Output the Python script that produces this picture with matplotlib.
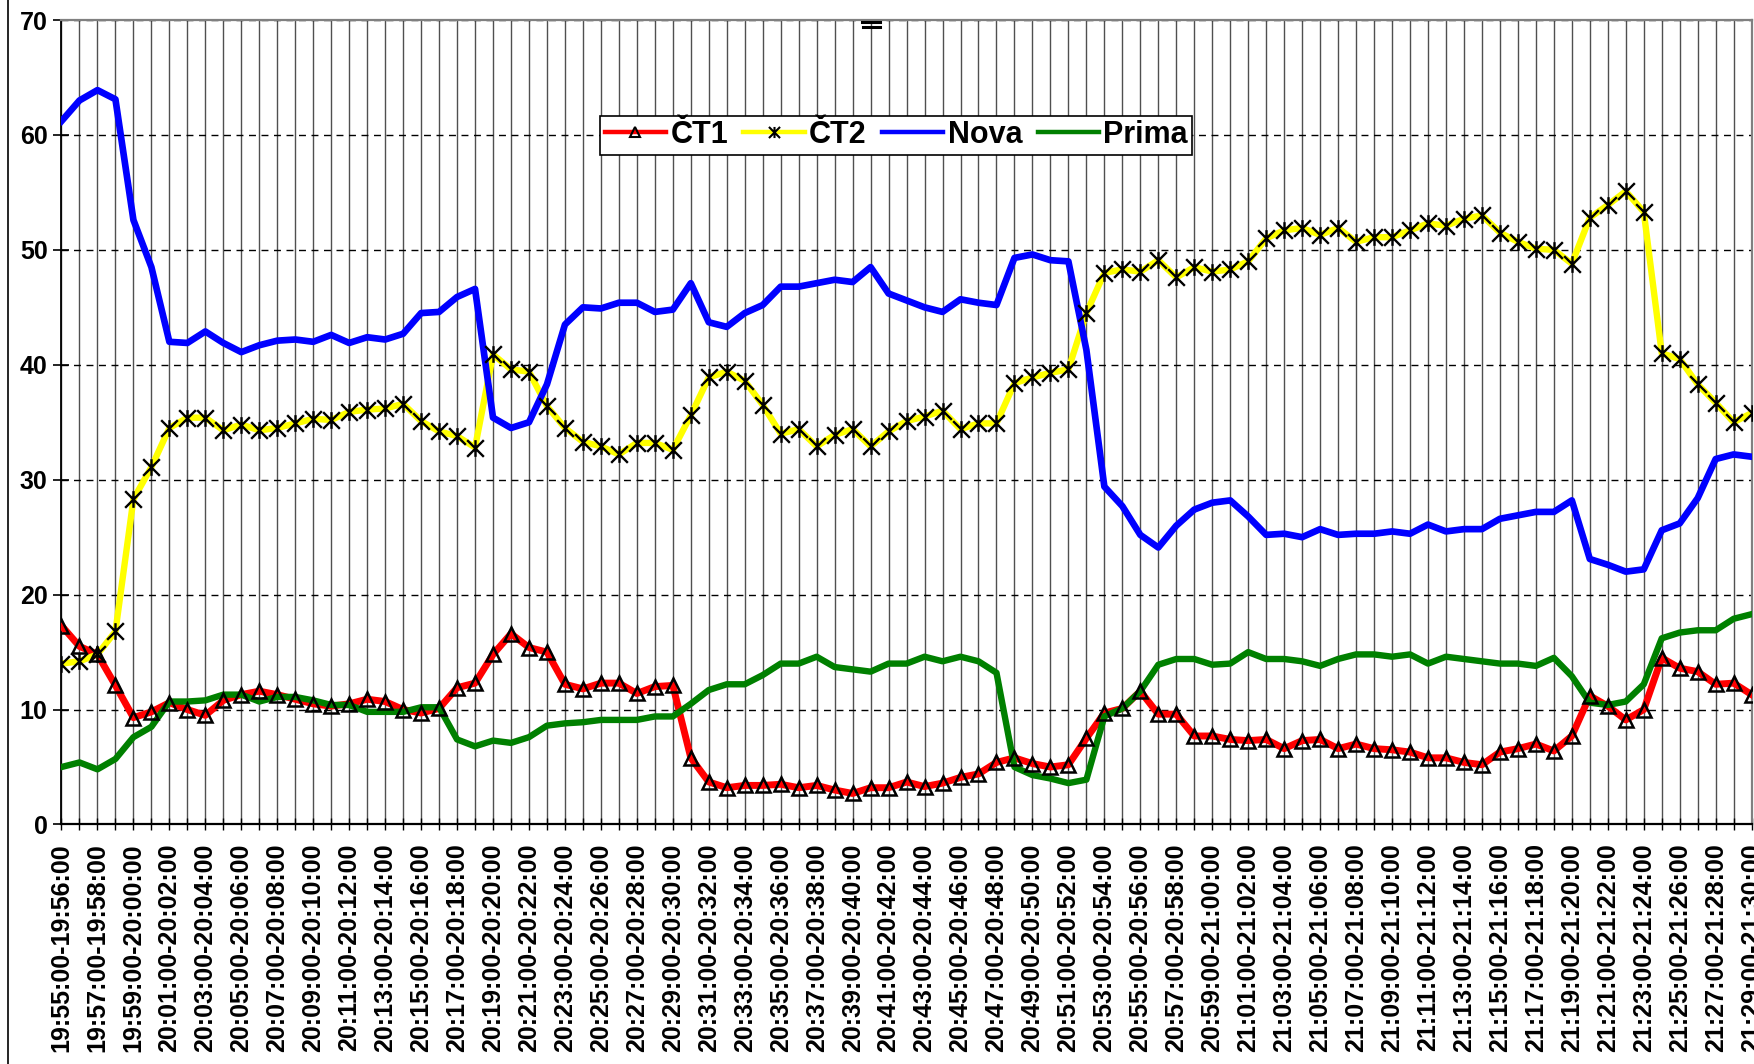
from datetime import datetime, timedelta

import matplotlib
matplotlib.use("Agg")
import matplotlib.pyplot as plt
from matplotlib.lines import Line2D
from matplotlib.path import Path

plt.rcParams["font.family"] = ["Liberation Sans", "DejaVu Sans"]
plt.rcParams["font.weight"] = "bold"

# one-minute intervals 19:55-19:56 ... 21:29-21:30
t0 = datetime(2000, 1, 1, 19, 55)
intervals = [f"{t0 + timedelta(minutes=k):%H:%M:%S}-{t0 + timedelta(minutes=k + 1):%H:%M:%S}"
             for k in range(95)]

ct1 = [17.3, 15.5, 14.8, 12.1, 9.3, 9.8, 10.6, 10.0, 9.5, 10.8,
       11.3, 11.6, 11.3, 10.9, 10.5, 10.3, 10.5, 10.9, 10.7, 10.0,
       9.7, 10.1, 11.9, 12.3, 14.8, 16.6, 15.4, 15.0, 12.2, 11.8,
       12.3, 12.3, 11.4, 12.0, 12.1, 5.8, 3.7, 3.2, 3.4, 3.4,
       3.5, 3.2, 3.4, 3.0, 2.7, 3.2, 3.2, 3.7, 3.3, 3.6,
       4.1, 4.4, 5.4, 5.8, 5.3, 5.0, 5.2, 7.5, 9.7, 10.1,
       11.6, 9.6, 9.6, 7.7, 7.7, 7.4, 7.3, 7.4, 6.6, 7.3,
       7.4, 6.6, 7.0, 6.6, 6.5, 6.3, 5.8, 5.8, 5.4, 5.2,
       6.3, 6.6, 7.0, 6.4, 7.7, 11.2, 10.3, 9.1, 10.0, 14.5,
       13.6, 13.3, 12.2, 12.3, 11.3]

ct2 = [14.0, 14.2, 14.8, 16.8, 28.3, 31.1, 34.5, 35.4, 35.4, 34.3,
       34.8, 34.3, 34.5, 34.9, 35.3, 35.2, 35.9, 36.1, 36.2, 36.6,
       35.1, 34.2, 33.8, 32.8, 40.9, 39.6, 39.4, 36.4, 34.5, 33.3,
       32.9, 32.2, 33.2, 33.2, 32.6, 35.6, 38.9, 39.4, 38.6, 36.5,
       34.0, 34.4, 32.9, 33.9, 34.4, 32.9, 34.2, 35.1, 35.5, 36.0,
       34.4, 34.9, 34.9, 38.4, 38.9, 39.3, 39.6, 44.5, 48.0, 48.3,
       48.1, 49.1, 47.6, 48.5, 48.1, 48.3, 49.0, 51.0, 51.7, 51.9,
       51.3, 51.9, 50.7, 51.1, 51.1, 51.7, 52.3, 52.1, 52.7, 53.0,
       51.5, 50.7, 50.1, 50.0, 48.8, 52.8, 53.9, 55.1, 53.3, 41.0,
       40.5, 38.3, 36.7, 35.0, 35.8]

nova = [61.2, 63.0, 63.9, 63.1, 52.6, 48.5, 42.0, 41.9, 42.9, 41.9,
        41.1, 41.7, 42.1, 42.2, 42.0, 42.6, 41.9, 42.4, 42.2, 42.7,
        44.5, 44.6, 45.9, 46.6, 35.4, 34.5, 35.0, 38.3, 43.5, 45.0,
        44.9, 45.4, 45.4, 44.6, 44.8, 47.1, 43.7, 43.3, 44.5, 45.2,
        46.8, 46.8, 47.1, 47.4, 47.2, 48.5, 46.2, 45.6, 45.0, 44.6,
        45.7, 45.4, 45.2, 49.3, 49.6, 49.1, 49.0, 41.3, 29.4, 27.7,
        25.2, 24.1, 26.0, 27.4, 28.0, 28.2, 26.8, 25.2, 25.3, 25.0,
        25.7, 25.2, 25.3, 25.3, 25.5, 25.3, 26.1, 25.5, 25.7, 25.7,
        26.6, 26.9, 27.2, 27.2, 28.2, 23.1, 22.6, 22.0, 22.2, 25.6,
        26.2, 28.4, 31.8, 32.2, 32.0]

prima = [5.0, 5.4, 4.8, 5.7, 7.6, 8.5, 10.7, 10.7, 10.8, 11.3,
         11.3, 10.7, 11.1, 11.1, 10.8, 10.4, 10.4, 9.8, 9.8, 9.8,
         10.2, 10.2, 7.4, 6.8, 7.3, 7.1, 7.6, 8.6, 8.8, 8.9,
         9.1, 9.1, 9.1, 9.4, 9.4, 10.5, 11.7, 12.2, 12.2, 13.0,
         14.0, 14.0, 14.6, 13.7, 13.5, 13.3, 14.0, 14.0, 14.6, 14.2,
         14.6, 14.2, 13.2, 5.0, 4.3, 4.0, 3.6, 3.9, 9.4, 10.1,
         11.6, 13.9, 14.4, 14.4, 13.9, 14.0, 15.0, 14.4, 14.4, 14.2,
         13.8, 14.4, 14.8, 14.8, 14.6, 14.8, 14.0, 14.6, 14.4, 14.2,
         14.0, 14.0, 13.8, 14.5, 12.9, 10.6, 10.4, 10.7, 12.2, 16.2,
         16.7, 16.9, 16.9, 17.9, 18.3]

yticks = [0, 10, 20, 30, 40, 50, 60, 70]

# Excel-style star marker: X with a vertical bar
star = Path([(-1, -1), (1, 1), (-1, 1), (1, -1), (0, -1), (0, 1)],
            [Path.MOVETO, Path.LINETO, Path.MOVETO, Path.LINETO, Path.MOVETO, Path.LINETO])

fig = plt.figure(figsize=(17.54, 10.64), dpi=100)
ax = fig.add_axes([0.03506, 0.2251, 0.9636, 0.7561])

x = list(range(len(intervals)))
ax.plot(x, ct1, color="#FF0000", lw=5, zorder=3)
ax.plot(x, ct2, color="#FFFF00", lw=4.6, zorder=3)
ax.plot(x, nova, color="#0000FF", lw=4.8, zorder=3)
ax.plot(x, prima, color="#008000", lw=4.6, zorder=3)
# markers sit on top of every line
ax.plot(x, ct1, ls="none", marker="^", ms=10, mfc="none", mec="black", mew=1.8, zorder=4)
ax.plot(x, ct2, ls="none", marker=star, ms=12, mfc="none", mec="black", mew=1.7, zorder=4)

ax.set_xlim(0, len(intervals) - 1)
ax.set_ylim(0, 70)
ax.set_xticks(x)
ax.set_xticklabels([lab if k % 2 == 0 else "" for k, lab in enumerate(intervals)],
                   rotation=90, fontsize=18, fontweight="bold")
ax.set_yticks(yticks)
ax.set_yticklabels([str(v) for v in yticks], fontsize=18, fontweight="bold")
ax.tick_params(axis="x", direction="inout", length=9, width=1, pad=9)
ax.tick_params(axis="y", direction="inout", length=12, width=1.2, pad=4)

ax.xaxis.grid(True, color="#505050", lw=1.0, ls="-", zorder=1)
ax.yaxis.grid(True, color="black", lw=1.0, ls=(0, (5, 4)), zorder=1)
ax.set_axisbelow(True)

ax.spines["left"].set_color("black")
ax.spines["left"].set_linewidth(1.3)
ax.spines["bottom"].set_color("black")
ax.spines["bottom"].set_linewidth(1.6)
for s in ("top", "right"):
    ax.spines[s].set_color("#808080")
    ax.spines[s].set_linewidth(1.6)

handles = [
    Line2D([], [], color="#FF0000", lw=3.2, marker="^", ms=7, mfc="none", mec="black", mew=1.5),
    Line2D([], [], color="#FFFF00", lw=3.2, marker=star, ms=8, mfc="none", mec="black", mew=1.5),
    Line2D([], [], color="#0000FF", lw=3.2),
    Line2D([], [], color="#008000", lw=3.2),
]
leg = ax.legend(handles, ["ČT1", "ČT2", "Nova", "Prima"], ncol=4, loc="center",
                bbox_to_anchor=(0.511, 0.873), bbox_transform=fig.transFigure,
                fancybox=False, framealpha=1, edgecolor="black",
                handlelength=2.0, handletextpad=0.15, columnspacing=0.5,
                borderpad=0.15, numpoints=1, prop={"size": 22, "weight": "bold"})
leg.get_frame().set_linewidth(1.2)

# small "=" mark at the top edge
fig.add_artist(Line2D([862 / 1754, 880 / 1754], [1 - 21.5 / 1064] * 2, color="black", lw=2.2))
fig.add_artist(Line2D([863 / 1754, 880 / 1754], [1 - 27 / 1064] * 2, color="black", lw=2.2))
fig.add_artist(Line2D([0.0046, 0.0046], [0, 1], color="black", lw=1.2))

fig.savefig("out.png", dpi=100)
